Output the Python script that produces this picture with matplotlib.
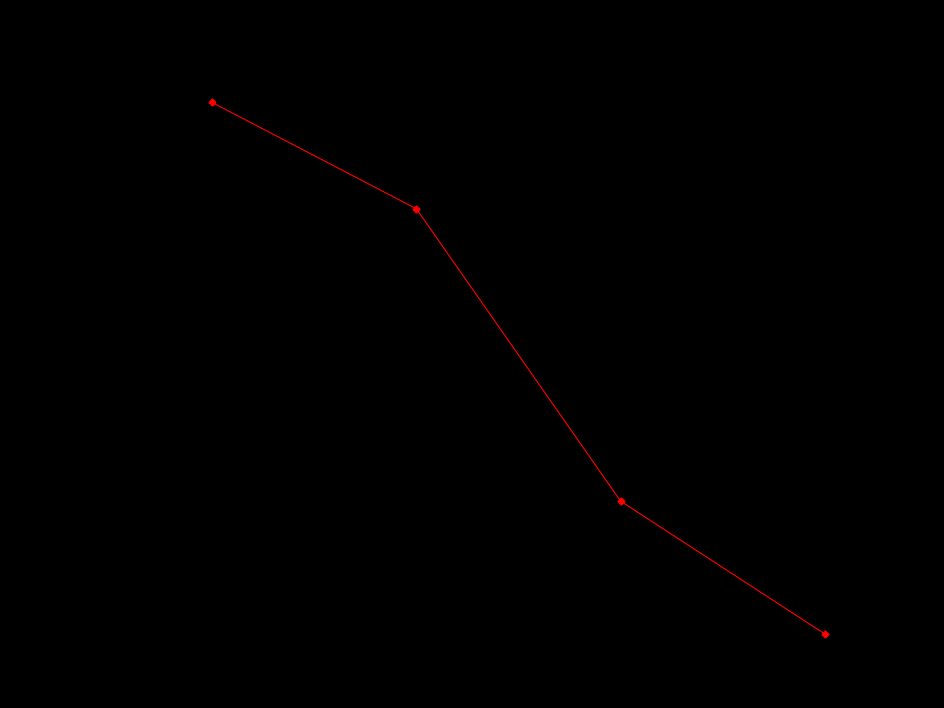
import matplotlib.pyplot as plt

# production possibilities: rifles (tüfek) vs wheat (buğday)
x_labels = ['', '2000', '4600', '5000']
wheat = [4000, 3200, 1000, 0]
y_ticks = [0, 500, 1000, 1500, 2000, 2500, 3000, 3500, 4000, 4500]

# region / point letters
letters = ['N', 'K', 'P', 'R', 'L', 'M']
letter_x = [-0.31, 1.09, 2.32, 0.40, 2.10, 3.10]
letter_y = [4281, 3687, 3273, 1633, 1430, 369]

fig = plt.figure(figsize=(9.44, 7.08), dpi=100, facecolor='black')
ax = fig.add_axes([0.1165, 0.1045, 0.8655, 0.8446])
ax.set_facecolor('black')

xs = range(len(x_labels))
ax.plot(xs, wheat, color='red', linewidth=0.8, marker='D', markersize=3.5,
        clip_on=False)

ax.set_xlim(-0.5, 3.5)
ax.set_ylim(0, 4500)
ax.set_xticks(list(xs))
ax.set_xticklabels(x_labels)
ax.set_yticks(y_ticks)
ax.tick_params(axis='x', length=0, pad=20, labelsize=18, labelcolor='black')
ax.tick_params(axis='y', length=0, pad=17, labelsize=18, labelcolor='black')
for s in ax.spines.values():
    s.set_visible(False)

for t, x, y in zip(letters, letter_x, letter_y):
    ax.text(x, y, t, fontsize=25, color='black', ha='center', va='center')

fig.text(47 / 944, 1 - 67 / 708, 'buğday', fontsize=14, color='black',
         ha='center', va='center')
fig.text(898 / 944, 1 - 662 / 708, 'tüfek', fontsize=15, color='black',
         ha='center', va='center')

fig.savefig('out.png', dpi=100, facecolor='black')
plt.close()
